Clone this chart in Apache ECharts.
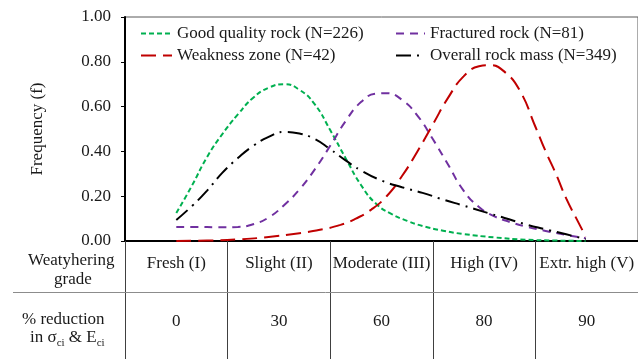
<!DOCTYPE html>
<html>
<head>
<meta charset="utf-8">
<script src="https://cdn.jsdelivr.net/npm/echarts@6/dist/echarts.min.js"></script>
<style>
html,body{margin:0;padding:0;background:#fff;}
#chart{width:638px;height:359px;}
</style>
</head>
<body>
<div id="chart"></div>
<script>
// ---- Data (x in category units: 0 = left edge of "Fresh (I)", 0.5 = its centre) ----
var weatheringGrades = ['Fresh (I)', 'Slight (II)', 'Moderate (III)', 'High (IV)', 'Extr. high (V)'];
var reductions = ['0', '30', '60', '80', '90'];
var yTicks = [0, 0.2, 0.4, 0.6, 0.8, 1.0];

var goodQualityRock = [[0.5,0.125],[0.65,0.245],[0.8,0.375],[0.95,0.478],[1.1,0.565],[1.25,0.64],[1.4,0.684],[1.55,0.70],[1.7,0.675],[1.85,0.61],[2.0,0.495],[2.15,0.37],[2.3,0.25],[2.45,0.165],[2.6,0.12],[2.75,0.09],[2.9,0.067],[3.1,0.046],[3.3,0.031],[3.6,0.016],[3.9,0.006],[4.2,0.002],[4.49,0]];
var fracturedRock = [[0.5,0.063],[0.7,0.063],[0.9,0.061],[1.1,0.063],[1.25,0.075],[1.4,0.105],[1.55,0.16],[1.7,0.23],[1.85,0.32],[2.0,0.425],[2.15,0.535],[2.3,0.62],[2.45,0.658],[2.55,0.66],[2.7,0.63],[2.85,0.56],[3.0,0.455],[3.15,0.34],[3.3,0.225],[3.45,0.152],[3.6,0.11],[3.75,0.085],[3.9,0.065],[4.1,0.045],[4.3,0.027],[4.49,0.012]];
var weaknessZone = [[0.5,0],[0.8,0.002],[1.1,0.007],[1.4,0.018],[1.7,0.035],[1.9,0.05],[2.1,0.072],[2.25,0.1],[2.4,0.14],[2.55,0.2],[2.7,0.29],[2.85,0.4],[3.0,0.52],[3.15,0.64],[3.3,0.735],[3.45,0.78],[3.55,0.785],[3.7,0.755],[3.85,0.67],[4.0,0.51],[4.1,0.40],[4.2,0.30],[4.3,0.19],[4.4,0.10],[4.49,0.02]];
var overallRockMass = [[0.5,0.094],[0.65,0.155],[0.8,0.225],[0.95,0.305],[1.1,0.37],[1.25,0.425],[1.4,0.465],[1.55,0.487],[1.7,0.48],[1.85,0.455],[2.0,0.41],[2.15,0.36],[2.3,0.315],[2.5,0.27],[2.7,0.24],[2.9,0.215],[3.1,0.185],[3.3,0.158],[3.5,0.13],[3.7,0.103],[3.9,0.075],[4.1,0.052],[4.3,0.03],[4.49,0.008]];

var seriesNames = ['Good quality rock (N=226)', 'Fractured rock (N=81)', 'Weakness zone (N=42)', 'Overall rock mass (N=349)'];

var FONT = 'Liberation Serif';
var TXT = '#1a1a1a';
var chart = echarts.init(document.getElementById('chart'), null, {renderer: 'canvas'});

function lineSeries(name, data, color, dash) {
  return {
    name: name, type: 'line', xAxisIndex: 0, yAxisIndex: 0,
    data: data, smooth: 0.5, symbol: 'none', showSymbol: false,
    lineStyle: {color: color, width: 2, type: dash, cap: 'butt'},
    itemStyle: {color: color},
    emphasis: {disabled: true}, silent: true, animation: false, z: 3
  };
}

var legendCommon = {
  orient: 'vertical', itemWidth: 31, itemHeight: 14, itemGap: 5, selectedMode: false, padding: 0,
  itemStyle: {opacity: 0},
  textStyle: {fontFamily: FONT, fontSize: 17, color: TXT, lineHeight: 17}
};

var option = {
  animation: false,
  backgroundColor: '#fff',
  grid: {left: 125, top: 17, bottom: 118, right: -3, show: true, borderColor: '#595959', borderWidth: 1, containLabel: false},
  legend: [
    Object.assign({}, legendCommon, {data: [seriesNames[0], seriesNames[2]], left: 140, top: 25}),
    Object.assign({}, legendCommon, {data: [seriesNames[1], seriesNames[3]], left: 395, top: 25, itemWidth: 29})
  ],
  xAxis: [
    {
      type: 'value', min: 0, max: weatheringGrades.length, interval: 1, position: 'bottom',
      axisLine: {show: true, lineStyle: {color: '#000', width: 2}},
      axisTick: {show: true, inside: false, length: 118, lineStyle: {color: '#404040', width: 1}},
      axisLabel: {show: false}, splitLine: {show: false}
    },
    {
      type: 'category', data: weatheringGrades, position: 'bottom', boundaryGap: true,
      axisLine: {show: false}, axisTick: {show: false}, splitLine: {show: false},
      axisLabel: {interval: 0, margin: 13, fontFamily: FONT, fontSize: 17, color: TXT, lineHeight: 20}
    },
    {
      type: 'category', data: reductions, position: 'bottom', boundaryGap: true,
      axisLine: {show: false}, axisTick: {show: false}, splitLine: {show: false},
      axisLabel: {interval: 0, margin: 71, fontFamily: FONT, fontSize: 17, color: TXT, lineHeight: 20}
    }
  ],
  yAxis: {
    type: 'value', min: yTicks[0], max: yTicks[yTicks.length - 1], interval: 0.2,
    name: 'Frequency (f)', nameLocation: 'middle', nameGap: 79, nameRotate: 90,
    nameTextStyle: {fontFamily: FONT, fontSize: 17, color: TXT},
    axisLine: {show: true, lineStyle: {color: '#000', width: 2}},
    axisTick: {show: true, inside: false, length: 4, lineStyle: {color: '#000', width: 1}},
    axisLabel: {margin: 14, fontFamily: FONT, fontSize: 17, color: TXT, formatter: function (v) { return v.toFixed(2); }},
    splitLine: {show: false}
  },
  graphic: [
    {type: 'line', silent: true, z: 1, shape: {x1: 13, y1: 292.5, x2: 638, y2: 292.5}, style: {stroke: '#8c8c8c', lineWidth: 1}},
    {type: 'text', silent: true, left: 28, top: 252, style: {text: 'Weatyhering', fontFamily: FONT, fontSize: 17, fill: TXT}},
    {type: 'text', silent: true, left: 54, top: 271, style: {text: 'grade', fontFamily: FONT, fontSize: 17, fill: TXT}},
    {type: 'text', silent: true, left: 22, top: 311, style: {text: '% reduction', fontFamily: FONT, fontSize: 17, fill: TXT}},
    {type: 'text', silent: true, left: 30, top: 329, style: {
      text: '{n|in σ}{s|ci}{n| & E}{s|ci}', fontFamily: FONT, fontSize: 17, fill: TXT,
      rich: {
        n: {fontFamily: FONT, fontSize: 17, lineHeight: 22, verticalAlign: 'middle', fill: TXT},
        s: {fontFamily: FONT, fontSize: 11, lineHeight: 11, verticalAlign: 'bottom', fill: TXT}
      }
    }}
  ],
  series: [
    lineSeries(seriesNames[0], goodQualityRock, '#00B050', [5, 3]),
    lineSeries(seriesNames[1], fracturedRock, '#7030A0', [8, 6]),
    lineSeries(seriesNames[2], weaknessZone, '#C00000', [15, 7]),
    lineSeries(seriesNames[3], overallRockMass, '#000000', [15, 6, 2, 6])
  ]
};
chart.setOption(option);
</script>
</body>
</html>
